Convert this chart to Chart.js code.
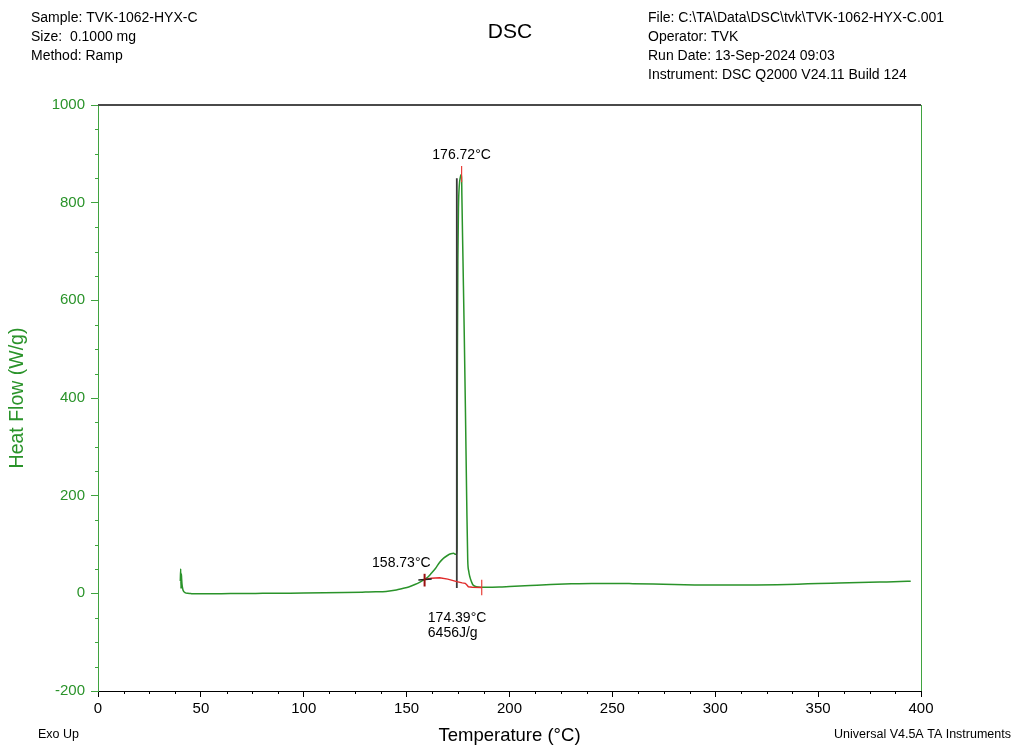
<!DOCTYPE html>
<html><head><meta charset="utf-8">
<script src="https://cdn.jsdelivr.net/npm/chart.js@4/dist/chart.umd.min.js"></script>
<style>html,body{margin:0;padding:0;background:#fff;}canvas{display:block;}</style>
</head><body>
<canvas id="c" width="1014" height="747"></canvas>
<script>
// ---- data ----
const temperature = [40.0, 40.2, 40.35, 40.5, 40.65, 40.8, 41.0, 41.3, 41.8, 42.5, 43.5, 45, 47, 50, 55, 60, 70, 80, 90, 100, 110, 120, 130, 135, 140, 145, 148, 151, 154, 156.5, 158.73, 160.5, 162, 164, 166, 168, 170, 171.5, 172.8, 173.8, 174.3, 174.45, 174.55, 174.7, 174.9, 175.2, 175.6, 176.1, 176.72, 176.85, 177.4, 178.0, 178.6, 179.2, 179.7, 180.2, 180.6, 181.0, 181.7, 182.3, 183.5, 185, 186.5, 188, 190, 195, 200, 210, 220, 230, 240, 250, 260, 270, 280, 290, 300, 310, 320, 330, 340, 350, 360, 370, 380, 390, 395];
const heatFlow    = [25, 50, 10, 40, 30, 20, 13, 7, 3, 1, 0, -0.5, -1, -1, -1, -0.8, -0.3, 0, 0.3, 0.6, 1.0, 1.6, 2.5, 3.0, 4.0, 7, 10, 13, 18, 23, 28.5, 34, 41, 51, 63, 72, 78, 81, 82, 80, 80, 95, 300, 500, 680, 790, 835, 852, 858, 815, 680, 533, 370, 191, 68, 45, 36, 30, 22, 17, 14, 12.8, 12.3, 12.3, 12.5, 13, 14, 16, 18, 19.5, 20.3, 20.3, 19.8, 19, 18, 17.3, 17, 17, 17.2, 17.8, 18.8, 20, 21, 22, 23, 24, 24.8];

const baselineT  = [158.73, 162, 166, 170, 174.4, 177, 178.5, 179.3, 180, 182, 186.5];
const baselineHF = [28.5, 31, 32, 29, 24, 21.5, 20.5, 17, 13.5, 12.5, 12];

const peakT = 176.72, peakTickHF = [842, 875];
const onsetT = 158.73, onsetTickHF = [14, 40];
const onsetTangentT = [155.7, 162.2], onsetTangentHF = [27.3, 29.3];
const limitT = 174.39, limitHF = [11, 850];
const endT = 186.5, endTickHF = [-4, 28];

const xTicks = [0, 50, 100, 150, 200, 250, 300, 350, 400];
const yTicks = [-200, 0, 200, 400, 600, 800, 1000];

const headerLeft  = ['Sample: TVK-1062-HYX-C', 'Size:  0.1000 mg', 'Method: Ramp'];
const headerRight = ['File: C:\\TA\\Data\\DSC\\tvk\\TVK-1062-HYX-C.001', 'Operator: TVK', 'Run Date: 13-Sep-2024 09:03', 'Instrument: DSC Q2000 V24.11 Build 124'];
const plotTitle = 'DSC';
const footLeft = 'Exo Up', footRight = 'Universal V4.5A TA Instruments';
const peakLabel = '176.72°C', onsetLabel = '158.73°C', limitLabel = '174.39°C', enthalpyLabel = '6456J/g';

// ---- build ----
const FONT = "'Liberation Sans', Arial, sans-serif";
const GREEN = '#2a932a', AXGREEN = '#3fa33f';
const pts = (xs, ys) => xs.map((x, i) => ({x, y: ys[i]}));
const vline = (x, ys) => ys.map(y => ({x, y}));

const line = (data, color, width, extra) => Object.assign({
  data, borderColor: color, borderWidth: width, showLine: true, pointRadius: 0, fill: false
}, extra || {});

const deco = {
  id: 'deco',
  afterDraw(chart) {
    const ctx = chart.ctx, xs = chart.scales.x, ys = chart.scales.y, a = chart.chartArea;
    ctx.save();
    ctx.lineWidth = 1;
    ctx.strokeStyle = '#000';
    for (let v = 0; v <= 400; v += 12.5) {
      if (v % 50 === 0) continue;
      const px = Math.round(xs.getPixelForValue(v)) + 0.5;
      ctx.beginPath(); ctx.moveTo(px, a.bottom); ctx.lineTo(px, a.bottom + 3); ctx.stroke();
    }
    ctx.strokeStyle = AXGREEN;
    for (let v = -200; v <= 1000; v += 50) {
      if (v % 200 === 0) continue;
      const py = Math.round(ys.getPixelForValue(v)) + 0.5;
      ctx.beginPath(); ctx.moveTo(a.left - 3, py); ctx.lineTo(a.left, py); ctx.stroke();
    }
    ctx.strokeStyle = '#4a4a4a'; ctx.lineWidth = 2;
    ctx.beginPath(); ctx.moveTo(a.left, a.top); ctx.lineTo(a.right, a.top); ctx.stroke();
    ctx.strokeStyle = AXGREEN; ctx.lineWidth = 1;
    ctx.beginPath(); ctx.moveTo(Math.round(a.right) + 0.5, a.top); ctx.lineTo(Math.round(a.right) + 0.5, a.bottom); ctx.stroke();

    ctx.fillStyle = '#000';
    ctx.textBaseline = 'alphabetic';
    ctx.font = '14px ' + FONT;
    ctx.textAlign = 'left';
    headerLeft.forEach((t, i) => ctx.fillText(t, 31, 22 + i * 19));
    headerRight.forEach((t, i) => ctx.fillText(t, 648, 22 + i * 19));
    ctx.font = '21px ' + FONT;
    ctx.textAlign = 'center';
    ctx.fillText(plotTitle, 510, 38);
    ctx.font = '12.5px ' + FONT;
    ctx.textAlign = 'left';
    ctx.fillText(footLeft, 38, 738);
    ctx.textAlign = 'right';
    ctx.fillText(footRight, 1011, 738);

    ctx.font = '14px ' + FONT;
    ctx.textBaseline = 'middle';
    ctx.textAlign = 'center';
    ctx.fillText(peakLabel, xs.getPixelForValue(peakT), ys.getPixelForValue(peakTickHF[1]) - 11);
    ctx.textAlign = 'right';
    ctx.fillText(onsetLabel, xs.getPixelForValue(onsetT) + 6, ys.getPixelForValue(onsetTickHF[1]) - 11);
    ctx.textAlign = 'left';
    ctx.fillText(limitLabel, xs.getPixelForValue(limitT) - 29, ys.getPixelForValue(limitHF[0]) + 30);
    ctx.fillText(enthalpyLabel, xs.getPixelForValue(limitT) - 29, ys.getPixelForValue(limitHF[0]) + 45);
    ctx.restore();
  }
};

new Chart(document.getElementById('c'), {
  type: 'scatter',
  data: {
    datasets: [
      line(vline(peakT, peakTickHF), '#e8403a', 1.2),
      line(vline(endT, endTickHF), '#e8403a', 1.2),
      line(vline(onsetT, onsetTickHF), '#9a1010', 2),
      line(pts(onsetTangentT, onsetTangentHF), '#222', 1.5),
      line(pts(baselineT, baselineHF), '#e02a2a', 1.4),
      line(vline(limitT, limitHF), '#3a3a3a', 1.8),
      line(pts(temperature, heatFlow), GREEN, 1.5, {cubicInterpolationMode: 'monotone'})
    ]
  },
  options: {
    responsive: false,
    devicePixelRatio: 1,
    animation: false,
    events: [],
    layout: {padding: {top: 105, right: 93, left: 0, bottom: 0}},
    plugins: {legend: {display: false}, tooltip: {enabled: false}},
    scales: {
      x: {
        type: 'linear', position: 'bottom', min: 0, max: 400,
        afterBuildTicks: s => { s.ticks = xTicks.map(v => ({value: v})); },
        afterFit: s => { s.height = 56; },
        ticks: {color: '#000', font: {family: FONT, size: 15}, padding: 3, maxRotation: 0, autoSkip: false, callback: v => String(v)},
        grid: {drawOnChartArea: false, drawTicks: true, tickLength: 6, color: '#000'},
        border: {color: '#000', width: 1},
        title: {display: true, text: 'Temperature (°C)', color: '#000', font: {family: FONT, size: 18.5}, padding: {top: 0, bottom: 0}}
      },
      y: {
        type: 'linear', position: 'left', min: -200, max: 1000,
        afterBuildTicks: s => { s.ticks = yTicks.map(v => ({value: v})); },
        afterFit: s => { s.width = 98; },
        ticks: {color: GREEN, font: {family: FONT, size: 15}, padding: 6, autoSkip: false, callback: v => String(v)},
        grid: {drawOnChartArea: false, drawTicks: true, tickLength: 7, color: AXGREEN},
        border: {color: AXGREEN, width: 1},
        title: {display: true, text: 'Heat Flow (W/g)', color: GREEN, font: {family: FONT, size: 19.5}, padding: {top: 6, bottom: 0}}
      }
    }
  },
  plugins: [deco]
});
</script>
</body></html>
